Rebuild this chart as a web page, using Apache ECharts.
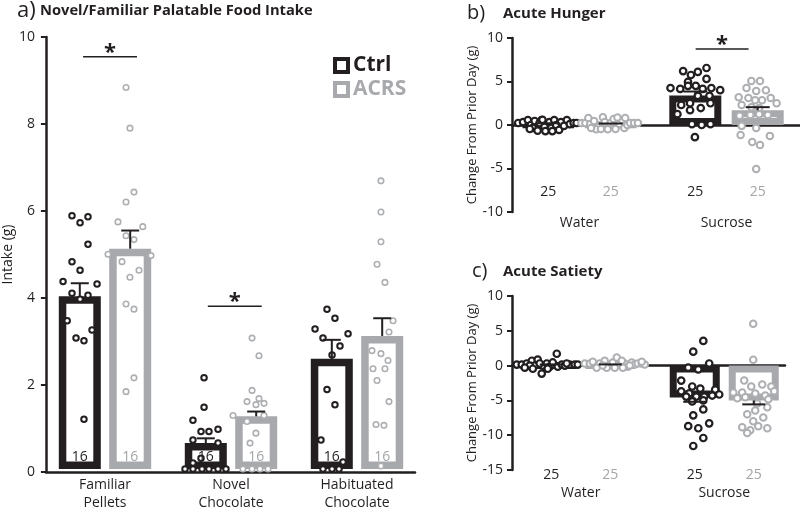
<!DOCTYPE html>
<html><head><meta charset="utf-8">
<script src="https://cdn.jsdelivr.net/npm/echarts@6/dist/echarts.min.js"></script>
<style>html,body{margin:0;padding:0;background:#fff}#c{width:800px;height:512px}</style>
</head><body><div id="c"></div>
<script>
const FONT = "'Open Sans', sans-serif";
const BLACK = '#231f20', GRAY = '#a7a9ac', GRAYPT = '#adafb2', GRAYTXT = '#a3a5a8';

// ---------- Panel a: Novel/Familiar Palatable Food Intake ----------
const catsA = ['Familiar\nPellets', 'Novel\nChocolate', 'Habituated\nChocolate'];
const aYTicks = [0, 2, 4, 6, 8, 10];
const aCtrlMean = [4.0, 0.6, 2.55];
const aAcrsMean = [5.1, 1.22, 3.08];
const aCtrlSem = [0.3, 0.11, 0.44];
const aAcrsSem = [0.42, 0.11, 0.41];
const aCtrlN = [16, 16, 16];
const aAcrsN = [16, 16, 16];
// points: per category, [jitter, value]
const aCtrlPts = [
  [[-0.262,5.86],[-0.198,5.70],[-0.135,5.84],[-0.135,5.20],[-0.262,4.80],[-0.198,4.60],[-0.333,4.34],[-0.063,4.28],[-0.262,4.07],[-0.135,4.02],[-0.198,3.93],[-0.30,3.43],[-0.103,3.22],[-0.23,3.03],[-0.167,2.97],[-0.167,1.15]],
  [[-0.214,2.11],[-0.214,1.43],[-0.302,1.13],[-0.238,0.87],[-0.175,0.87],[-0.103,0.92],[-0.302,0.67],[-0.103,0.6],[-0.238,0.25],[-0.302,0.14],[-0.365,0],[-0.302,0],[-0.23,0],[-0.175,0],[-0.103,0],[-0.04,0]],
  [[-0.238,3.70],[-0.175,3.49],[-0.333,3.24],[-0.27,3.03],[-0.071,3.13],[-0.135,2.85],[-0.198,2.64],[-0.238,1.84],[-0.175,1.49],[-0.286,0.67],[-0.111,0.16],[-0.27,0],[-0.198,0],[-0.143,0]]
];
const aAcrsPts = [
  [[0.167,8.83],[0.198,7.89],[0.23,6.41],[0.167,6.18],[0.103,5.72],[0.30,5.61],[0.167,5.40],[0.23,5.31],[0.024,4.97],[0.365,4.94],[0.135,4.80],[0.27,4.60],[0.198,4.44],[0.167,3.82],[0.23,3.70],[0.23,2.11],[0.167,1.79]],
  [[0.167,3.03],[0.222,2.62],[0.167,1.82],[0.222,1.63],[0.127,1.56],[0.198,1.49],[0.262,1.52],[0.016,1.24],[0.262,1.24],[0.127,1.10],[0.198,0.83],[0.151,0.60],[0.095,0],[0.167,0],[0.23,0],[0.294,0]],
  [[0.19,6.67],[0.19,5.95],[0.19,5.26],[0.159,4.74],[0.222,4.32],[0.286,3.43],[0.254,3.17],[0.119,2.74],[0.19,2.67],[0.246,2.51],[0.127,2.32],[0.222,2.32],[0.159,2.05],[0.254,1.56],[0.151,1.03],[0.214,1.01],[0.19,0.07]]
];
const aSig = [[0.04, 9.54], [1.03, 3.77]];

// ---------- Panel b: Acute Hunger ----------
const catsBC = ['Water', 'Sucrose'];
const bYTicks = [-10, -5, 0, 5, 10];
const bCtrlMean = [0.05, 3.4];
const bAcrsMean = [0.05, 1.7];
const bCtrlSem = [0.15, 0.45];
const bAcrsSem = [0.12, 0.35];
const bCtrlN = [25, 25];
const bAcrsN = [25, 25];
const bCtrlPts = [
  [[-0.417,0.23],[-0.384,0.34],[-0.351,0.57],[-0.331,0],[-0.305,0.46],[-0.318,-0.34],[-0.272,0.23],[-0.258,0.57],[-0.238,-0.23],[-0.232,-0.7],[-0.205,0.34],[-0.192,-0.34],[-0.172,0.57],[-0.159,0],[-0.139,-0.57],[-0.126,0.34],[-0.106,-0.11],[-0.086,0.57],[-0.066,0.11],[-0.04,0.23],[-0.02,0.23],[-0.285,-0.65],[-0.185,-0.7],[-0.338,-0.46],[-0.252,0.6]],
  [[-0.295,6.2],[-0.242,5.75],[-0.195,6.1],[-0.136,6.55],[-0.262,4.95],[-0.136,5.3],[-0.381,4.25],[-0.315,4.15],[-0.262,4.5],[-0.209,4.5],[-0.162,4.15],[-0.103,4.25],[-0.043,4.0],[-0.195,3.35],[-0.116,3.35],[-0.308,2.3],[-0.248,2.5],[-0.175,1.95],[-0.109,2.5],[-0.334,1.25],[-0.248,1.7],[-0.235,0.1],[-0.169,0],[-0.109,0.1],[-0.215,-1.4]]
];
const bAcrsPts = [
  [[0.013,0.23],[0.04,0.23],[0.073,0.11],[0.099,0.46],[0.126,-0.23],[0.159,0.9],[0.172,0.34],[0.192,-0.34],[0.212,0.23],[0.232,0.69],[0.245,-0.45],[0.272,0.11],[0.291,0.57],[0.305,-0.34],[0.325,0],[0.344,0.23],[0.371,0.23],[0.397,0.23],[0.113,-0.5],[0.192,-0.5],[0.06,0.8],[0.258,0.85],[0.146,-0.45],[0.311,0.8],[0.079,-0.34]],
  [[0.169,5.05],[0.228,5.05],[0.136,4.25],[0.202,3.9],[0.268,4.0],[0.083,3.2],[0.149,3.1],[0.195,2.85],[0.242,2.85],[0.301,3.1],[0.103,2.3],[0.169,2.05],[0.222,1.95],[0.341,2.5],[0.089,1.05],[0.162,1.15],[0.222,1.25],[0.281,1.15],[0.103,-0.1],[0.202,-0.35],[0.096,-1.15],[0.175,-1.95],[0.228,-2.3],[0.295,-1.25],[0.202,-5.05]]
];
const bSig = [[0.97, 8.74]];

// ---------- Panel c: Acute Satiety ----------
const cYTicks = [-15, -10, -5, 0, 5, 10];
const cCtrlMean = [0.05, -4.6];
const cAcrsMean = [0.05, -5.0];
const cCtrlSem = [0.12, 0.6];
const cAcrsSem = [0.12, 0.57];
const cCtrlN = [25, 25];
const cAcrsN = [25, 25];
const cCtrlPts = [
  [[-0.446,0.15],[-0.411,0.15],[-0.376,0.3],[-0.341,0.7],[-0.321,0],[-0.3,0.85],[-0.272,-1.15],[-0.265,0],[-0.237,0.3],[-0.216,-0.15],[-0.195,0.15],[-0.167,1.7],[-0.16,-0.15],[-0.132,0.15],[-0.111,0],[-0.077,0.15],[-0.042,0.15],[-0.021,0.15],[-0.355,0],[-0.39,-0.3],[-0.23,-0.45],[-0.286,0.3],[-0.195,0.45],[-0.098,0.3],[-0.334,-0.45]],
  [[-0.146,3.55],[-0.216,2.0],[-0.105,0.3],[-0.251,-0.3],[-0.181,-0.55],[-0.3,-2.15],[-0.223,-3.0],[-0.167,-3.3],[-0.063,-3.45],[-0.3,-3.7],[-0.244,-4.0],[-0.195,-4.45],[-0.139,-4.45],[-0.084,-4.3],[-0.035,-4.15],[-0.223,-5.15],[-0.146,-5.0],[-0.146,-6.3],[-0.216,-7.15],[-0.105,-8.3],[-0.251,-8.7],[-0.181,-9.0],[-0.146,-10.4],[-0.216,-11.55],[-0.265,-4.45]]
];
const cAcrsPts = [
  [[0.028,0.3],[0.063,0.3],[0.098,0.15],[0.132,0.3],[0.167,0.7],[0.202,0],[0.223,0.45],[0.251,1.15],[0.272,0.15],[0.307,0.3],[0.328,-0.15],[0.355,0.45],[0.376,0.15],[0.397,0.3],[0.425,0.3],[0.446,0.15],[0.111,-0.3],[0.181,-0.3],[0.293,-0.3],[0.341,0],[0.084,0.55],[0.153,0],[0.237,-0.3],[0.286,0.7],[0.425,0.55]],
  [[0.202,6.0],[0.202,0.85],[0.139,-2.15],[0.188,-3.0],[0.265,-2.7],[0.328,-3.0],[0.063,-3.85],[0.125,-3.85],[0.216,-4.0],[0.286,-4.3],[0.348,-3.7],[0.091,-4.7],[0.146,-4.55],[0.307,-4.85],[0.23,-5.45],[0.3,-6.0],[0.16,-7.0],[0.216,-6.45],[0.272,-7.45],[0.202,-8.0],[0.125,-8.85],[0.181,-9.3],[0.237,-8.7],[0.3,-9.0],[0.16,-9.7]]
];

// ---------- builder ----------
const option = {
  animation: false, backgroundColor: '#fff', textStyle: { fontFamily: FONT },
  grid: [], xAxis: [], yAxis: [], series: [],
  title: [
    { text: 'a)', left: 17, top: 0, padding: 0, textStyle: { fontFamily: FONT, fontSize: 22, fontWeight: 'normal', color: BLACK } },
    { text: 'Novel/Familiar Palatable Food Intake', left: 40, top: 3, padding: 0, textStyle: { fontFamily: FONT, fontSize: 14.7, fontWeight: 'bold', color: BLACK } },
    { text: 'b)', left: 467, top: 3, padding: 0, textStyle: { fontFamily: FONT, fontSize: 20, fontWeight: 'normal', color: BLACK } },
    { text: 'Acute Hunger', left: 503, top: 6, padding: 0, textStyle: { fontFamily: FONT, fontSize: 15, fontWeight: 'bold', color: BLACK } },
    { text: 'c)', left: 472, top: 261, padding: 0, textStyle: { fontFamily: FONT, fontSize: 20, fontWeight: 'normal', color: BLACK } },
    { text: 'Acute Satiety', left: 503, top: 264, padding: 0, textStyle: { fontFamily: FONT, fontSize: 15, fontWeight: 'bold', color: BLACK } }
  ],
  legend: {
    left: 333, top: 55, orient: 'vertical', padding: 0, itemGap: 3, itemWidth: 13, itemHeight: 13,
    icon: 'rect', selectedMode: false,
    textStyle: { fontFamily: FONT, fontSize: 21, fontWeight: 'bold', lineHeight: 21 },
    data: [
      { name: 'Ctrl', itemStyle: { color: '#fff', borderColor: BLACK, borderWidth: 4 }, textStyle: { color: BLACK } },
      { name: 'ACRS', itemStyle: { color: '#fff', borderColor: GRAY, borderWidth: 4 }, textStyle: { color: GRAY } }
    ]
  }
};

function flatPts(list) {
  const out = [];
  list.forEach((arr, i) => arr.forEach(p => out.push([i + p[0], p[1]])));
  return out;
}

function addPanel(p) {
  const g = option.grid.length, xi = option.xAxis.length, yi = option.yAxis.length;
  const ticks = p.yTicks, yMin = ticks[0], yMax = ticks[ticks.length - 1], yInt = ticks[1] - ticks[0];
  option.grid.push(Object.assign({}, p.main));
  option.grid.push(Object.assign({}, p.axes));
  option.xAxis.push({ type: 'category', gridIndex: g, data: p.cats,
    axisLine: { show: false, onZero: false }, axisTick: { show: false }, splitLine: { show: false },
    axisLabel: { color: BLACK, fontFamily: FONT, fontSize: p.catFont, lineHeight: p.catLH, margin: p.catMargin } });
  option.xAxis.push({ type: 'value', gridIndex: g, min: -0.5, max: p.cats.length - 0.5, show: false });
  option.xAxis.push({ type: 'value', gridIndex: g + 1, min: 0, max: 1,
    axisLine: { show: true, onZero: true, lineStyle: { color: BLACK, width: 2.5 } },
    axisTick: { show: false }, axisLabel: { show: false }, splitLine: { show: false } });
  option.yAxis.push({ type: 'value', gridIndex: g, min: yMin, max: yMax, interval: yInt, show: false });
  option.yAxis.push({ type: 'value', gridIndex: g + 1, min: yMin, max: yMax, interval: yInt,
    name: p.yName, nameLocation: 'middle', nameGap: p.nameGap,
    nameTextStyle: { color: BLACK, fontFamily: FONT, fontSize: p.nameFont },
    axisLine: { show: true, onZero: false, lineStyle: { color: BLACK, width: 2.5 } },
    axisTick: { show: true, length: 5, lineStyle: { color: BLACK, width: 2 } },
    axisLabel: { color: BLACK, fontFamily: FONT, fontSize: p.yFont, margin: p.yMargin },
    splitLine: { show: false } });

  const half = p.barW * (1 + p.barGap) / 2;
  const groups = [
    { name: 'Ctrl', mean: p.ctrlMean, sem: p.ctrlSem, n: p.ctrlN, pts: p.ctrlPts, color: BLACK, ptColor: BLACK, txt: BLACK, sign: -1, ptBW: p.ctrlPtBW },
    { name: 'ACRS', mean: p.acrsMean, sem: p.acrsSem, n: p.acrsN, pts: p.acrsPts, color: GRAY, ptColor: GRAYPT, txt: GRAYTXT, sign: 1, ptBW: p.acrsPtBW }
  ];
  groups.forEach(gr => {
    option.series.push({ type: 'bar', name: gr.name, xAxisIndex: xi, yAxisIndex: yi, data: gr.mean,
      barWidth: p.barW, barGap: (p.barGap * 100) + '%', silent: true, z: 2,
      itemStyle: { color: '#fff', borderColor: gr.color, borderWidth: p.border } });
  });
  groups.forEach(gr => {
    option.series.push({ type: 'scatter', name: gr.name, xAxisIndex: xi + 1, yAxisIndex: yi, data: flatPts(gr.pts),
      symbol: 'circle', symbolSize: p.ptSize, silent: true, z: 3, clip: false,
      itemStyle: { color: '#fff', borderColor: gr.ptColor, borderWidth: gr.ptBW, opacity: 1 } });
  });
  groups.forEach(gr => {
    option.series.push({ type: 'custom', xAxisIndex: xi, yAxisIndex: yi, z: 5, silent: true, clip: false,
      data: gr.mean.map((m, i) => [i, m, gr.sem[i]]),
      renderItem: (params, api) => {
        const m = api.value(1), s = api.value(2);
        const end = m + (m < 0 ? -s : s);
        const c0 = api.coord([api.value(0), m]), c1 = api.coord([api.value(0), end]);
        const x = c0[0] + gr.sign * half;
        const st = { stroke: BLACK, lineWidth: 2 };
        return { type: 'group', children: [
          { type: 'line', shape: { x1: x, y1: c0[1], x2: x, y2: c1[1] }, style: st },
          { type: 'line', shape: { x1: x - p.capW / 2, y1: c1[1], x2: x + p.capW / 2, y2: c1[1] }, style: st }
        ] };
      } });
    option.series.push({ type: 'custom', xAxisIndex: xi, yAxisIndex: yi, z: 4, silent: true, clip: false,
      data: gr.n.map((n, i) => [i, p.countY, n]),
      renderItem: (params, api) => {
        const c = api.coord([api.value(0), api.value(1)]);
        return { type: 'text', x: c[0] + gr.sign * half, y: c[1],
          style: { text: String(api.value(2)), fill: gr.txt, fontFamily: FONT, fontSize: p.countFont, align: 'center', verticalAlign: 'middle' } };
      } });
  });
  if (p.sig) {
    option.series.push({ type: 'custom', xAxisIndex: xi + 1, yAxisIndex: yi, z: 5, silent: true, clip: false,
      data: p.sig,
      renderItem: (params, api) => {
        const a = api.coord([api.value(0) - p.sigHW, api.value(1)]);
        const b = api.coord([api.value(0) + p.sigHW, api.value(1)]);
        return { type: 'group', children: [
          { type: 'line', shape: { x1: a[0], y1: a[1], x2: b[0], y2: b[1] }, style: { stroke: BLACK, lineWidth: 1.5 } },
          { type: 'text', x: (a[0] + b[0]) / 2, y: a[1] - 4,
            style: { text: '*', fill: BLACK, fontFamily: FONT, fontSize: 22, fontWeight: 'bold', align: 'center', verticalAlign: 'middle' } }
        ] };
      } });
  }
}

addPanel({
  main: { left: 42, top: 37, width: 378, height: 435 },
  axes: { left: 25, top: 37, width: 390, height: 435 },
  cats: catsA, yTicks: aYTicks, yName: 'Intake (g)', nameGap: 9, nameFont: 14, yFont: 14, yMargin: 11,
  catFont: 14, catLH: 18, catMargin: 7,
  barW: 42, barGap: 0.2, border: 7.5, capW: 18,
  ctrlMean: aCtrlMean, acrsMean: aAcrsMean, ctrlSem: aCtrlSem, acrsSem: aAcrsSem,
  ctrlN: aCtrlN, acrsN: aAcrsN, ctrlPts: aCtrlPts, acrsPts: aAcrsPts,
  ptSize: 5.5, ctrlPtBW: 2, acrsPtBW: 1.6, countY: 0.28, countFont: 14,
  sig: aSig, sigHW: 0.214
});
addPanel({
  main: { left: 506, top: 38, width: 302, height: 174 },
  axes: { left: 512, top: 38, width: 288, height: 174 },
  cats: catsBC, yTicks: bYTicks, yName: 'Change From Prior Day (g)', nameGap: 23, nameFont: 13, yFont: 14, yMargin: 9,
  catFont: 14, catLH: 16, catMargin: 3,
  barW: 52, barGap: 0.2, border: 7, capW: 24,
  ctrlMean: bCtrlMean, acrsMean: bAcrsMean, ctrlSem: bCtrlSem, acrsSem: bAcrsSem,
  ctrlN: bCtrlN, acrsN: bAcrsN, ctrlPts: bCtrlPts, acrsPts: bAcrsPts,
  ptSize: 6.5, ctrlPtBW: 2.2, acrsPtBW: 2, countY: -7.7, countFont: 14,
  sig: bSig, sigHW: 0.18
});
addPanel({
  main: { left: 509, top: 296, width: 287, height: 174 },
  axes: { left: 512, top: 296, width: 273, height: 174 },
  cats: catsBC, yTicks: cYTicks, yName: 'Change From Prior Day (g)', nameGap: 23, nameFont: 13, yFont: 14, yMargin: 9,
  catFont: 14, catLH: 16, catMargin: 15,
  barW: 50, barGap: 0.18, border: 7, capW: 23,
  ctrlMean: cCtrlMean, acrsMean: cAcrsMean, ctrlSem: cCtrlSem, acrsSem: cAcrsSem,
  ctrlN: cCtrlN, acrsN: cAcrsN, ctrlPts: cCtrlPts, acrsPts: cAcrsPts,
  ptSize: 6.5, ctrlPtBW: 2.2, acrsPtBW: 2, countY: -15.7, countFont: 14,
  sig: null
});

const chart = echarts.init(document.getElementById('c'), null, { renderer: 'canvas' });
chart.setOption(option);
</script>
</body></html>
